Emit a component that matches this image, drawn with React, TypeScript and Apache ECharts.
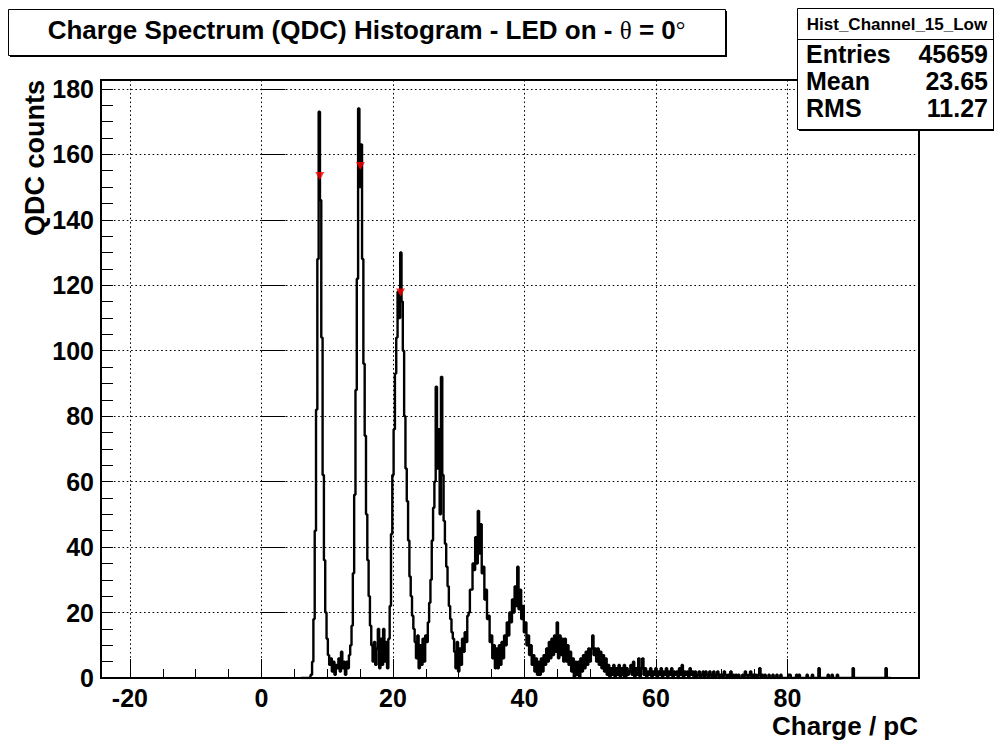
import React, { useEffect, useRef } from 'react';
import * as echarts from 'echarts';

// Histogram: counts per 0.2 pC bin, starting at 6.0 pC
const BIN_START = 6.0;
const BIN_WIDTH = 0.2;

const counts06to16 = [
  0, 0, 0, 0, 0, 0, 0, 0, 1, 5,
  18, 45, 82, 128, 173, 146, 104, 62, 36, 20,
  12, 7, 4, 6, 2, 5, 1, 4, 3, 6,
  2, 8, 3, 5, 1, 5, 3, 7, 10, 16,
  32, 56, 88, 122, 174, 150, 163, 128, 96, 74,
];
const counts16to26 = [
  50, 36, 25, 16, 10, 5, 11, 4, 9, 15,
  3, 12, 4, 15, 5, 11, 3, 12, 22, 44,
  62, 76, 93, 104, 118, 110, 130, 115, 100, 80,
  64, 54, 42, 31, 25, 19, 15, 11, 6, 13,
  3, 10, 4, 12, 5, 13, 11, 17, 23, 30,
];
const counts26to36 = [
  42, 52, 60, 89, 64, 76, 50, 92, 62, 48,
  41, 34, 28, 22, 18, 14, 12, 8, 3, 11,
  2, 9, 4, 12, 8, 14, 11, 19, 20, 27,
  27, 35, 33, 43, 35, 51, 38, 47, 32, 34,
  24, 27, 18, 19, 11, 13, 6, 10, 3, 9,
];
const counts36to46 = [
  3, 10, 4, 11, 6, 13, 10, 17, 13, 20,
  17, 24, 20, 28, 22, 34, 21, 27, 18, 22,
  14, 17, 10, 13, 7, 10, 4, 7, 2, 6,
  1, 5, 1, 6, 2, 7, 4, 9, 5, 11,
  6, 12, 7, 13, 8, 17, 6, 13, 7, 12,
];
const counts46to56 = [
  5, 12, 5, 10, 4, 8, 2, 6, 0, 5,
  1, 5, 0, 6, 2, 7, 3, 8, 4, 9,
  5, 9, 13, 7, 9, 5, 9, 4, 8, 3,
  7, 2, 6, 1, 4, 0, 3, 1, 4, 0,
  3, 1, 4, 0, 3, 1, 4, 0, 3, 1,
];
const counts56to66 = [
  2, 4, 1, 5, 0, 3, 1, 6, 0, 3,
  6, 1, 3, 0, 2, 1, 3, 0, 2, 1,
  3, 0, 2, 1, 3, 0, 2, 1, 3, 0,
  2, 1, 3, 0, 2, 1, 2, 0, 3, 1,
  4, 0, 2, 1, 2, 0, 3, 1, 2, 0,
];
const counts66to76 = [
  2, 0, 1, 2, 0, 1, 2, 0, 2, 1,
  0, 2, 1, 0, 2, 0, 1, 2, 0, 1,
  1, 0, 2, 1, 0, 1, 0, 2, 0, 1,
  0, 1, 0, 1, 0, 0, 1, 0, 2, 1,
  0, 1, 2, 0, 1, 0, 1, 0, 1, 3,
];
const counts76to86 = [
  0, 1, 0, 1, 0, 0, 1, 0, 0, 1,
  0, 0, 1, 0, 0, 1, 0, 0, 0, 0,
  0, 1, 1, 0, 0, 0, 0, 1, 0, 1,
  0, 0, 0, 0, 0, 1, 0, 0, 0, 1,
  0, 0, 0, 0, 3, 0, 0, 0, 0, 0,
];
const counts86to96 = [
  0, 1, 0, 0, 1, 0, 0, 0, 1, 0,
  0, 0, 0, 0, 0, 0, 0, 0, 0, 0,
  3, 0, 0, 0, 0, 0, 0, 0, 0, 0,
  0, 0, 0, 0, 0, 0, 0, 0, 0, 0,
  0, 0, 0, 0, 0, 3, 0, 0, 0, 0,
];

// Peaks found (red markers)
const peakCharge = [8.88, 15.05, 21.15];
const peakCounts = [153.4, 156.4, 117.8];

// Axes
const X_MIN = -24.4;
const X_MAX = 100;
const X_TICK_START = -20;
const X_TICK_STEP = 20;
const Y_MAX = 182.7;
const Y_TICK_STEP = 20;
const Y_MINOR_STEP = 5;

// Texts
const titleMain = 'Charge Spectrum (QDC) Histogram - LED on - ';
const titleTheta = '\u03b8';
const titleEq = ' = 0';
const titleDeg = '\u00b0';
const xTitle = 'Charge / pC';
const yTitle = 'QDC counts';
const histName = 'Hist_Channel_15_Low';
const statsLabels = ['Entries', 'Mean', 'RMS'];
const statsValues = ['45659', '23.65', '11.27'];

const FONT = "'Liberation Sans', Arial, Helvetica, sans-serif";
const SERIF = "'Liberation Serif', 'DejaVu Serif', serif";

export default function App() {
  const ref = useRef<HTMLDivElement>(null);

  useEffect(() => {
    if (!ref.current) return;
    const chart = echarts.init(ref.current, null, { renderer: 'svg' });

    const counts = [
      ...counts06to16, ...counts16to26, ...counts26to36, ...counts36to46,
      ...counts46to56, ...counts56to66, ...counts66to76, ...counts76to86, ...counts86to96,
    ];
    const histData = counts.map((c, i) => [+(BIN_START + i * BIN_WIDTH).toFixed(1), c]);
    const peakData = peakCharge.map((x, i) => [x, peakCounts[i]]);

    const plotLeft = 101;
    const plotRight = 919;
    const plotTop = 80;
    const plotBottom = 678;
    const plotW = plotRight - plotLeft;
    const plotH = plotBottom - plotTop;
    const majorLeft = plotLeft + ((X_TICK_START - X_MIN) / (X_MAX - X_MIN)) * plotW;

    const dotted = { color: '#000', width: 1, type: [1.6, 2.7] as any };
    const labelStyle = { color: '#000', fontSize: 25, fontWeight: 'bold' as const, fontFamily: FONT };

    const statsY = [54, 81, 108];

    const option: any = {
      animation: false,
      backgroundColor: '#fff',
      grid: [
        { left: plotLeft, top: plotTop, width: plotW, height: plotH, show: true, borderColor: '#000', borderWidth: 2, backgroundColor: 'transparent', containLabel: false, outerBoundsMode: 'none' },
        { left: majorLeft, top: plotTop, width: plotRight - majorLeft, height: plotH, show: false, containLabel: false, outerBoundsMode: 'none' },
      ],
      xAxis: [
        { gridIndex: 0, type: 'value', min: X_MIN, max: X_MAX, show: false },
        {
          gridIndex: 1, type: 'value', min: X_TICK_START, max: X_MAX, interval: X_TICK_STEP, position: 'bottom',
          axisLine: { show: false },
          axisTick: { show: true, inside: true, length: 19, lineStyle: { color: '#000', width: 1 } },
          minorTick: { show: true, splitNumber: 4, length: 9, lineStyle: { color: '#000', width: 1 } },
          axisLabel: { ...labelStyle, margin: 7.5, formatter: (v: number) => (v < X_MAX ? String(v) : '') },
          splitLine: { show: true, lineStyle: dotted },
          minorSplitLine: { show: false },
        },
      ],
      yAxis: [
        {
          gridIndex: 0, type: 'value', min: 0, max: Y_MAX, interval: Y_TICK_STEP, position: 'left',
          axisLine: { show: false },
          axisTick: { show: true, inside: true, length: 24, lineStyle: { color: '#000', width: 1 } },
          axisLabel: { ...labelStyle, margin: 7, formatter: (v: number) => (v % Y_TICK_STEP === 0 ? String(v) : '') },
          splitLine: { show: true, lineStyle: dotted },
        },
        {
          gridIndex: 0, type: 'value', min: 0, max: Y_MAX, interval: Y_MINOR_STEP, position: 'left', offset: 0,
          axisLine: { show: false },
          axisTick: { show: true, inside: true, length: 12, lineStyle: { color: '#000', width: 1 } },
          axisLabel: { show: false },
          splitLine: { show: false },
        },
        { gridIndex: 1, type: 'value', min: 0, max: 1, show: false },
      ],
      series: [
        {
          type: 'line', xAxisIndex: 0, yAxisIndex: 0, data: histData, step: 'middle',
          showSymbol: false, symbol: 'none', lineStyle: { color: '#000', width: 2.4 }, z: 3,
        },
        {
          type: 'scatter', xAxisIndex: 0, yAxisIndex: 0, data: peakData, symbol: 'triangle',
          symbolRotate: 180, symbolSize: [9, 8], itemStyle: { color: '#ff0000' }, z: 4,
        },
      ],
      graphic: [
        // title box
        { type: 'rect', z: 100, shape: { x: 10, y: 11, width: 717, height: 46 }, style: { fill: '#000' } },
        { type: 'rect', z: 101, shape: { x: 8.5, y: 9.5, width: 717, height: 46 }, style: { fill: '#fff', stroke: '#000', lineWidth: 1 } },
        {
          type: 'text', z: 102, x: 366.5, y: 30,
          style: {
            text: `{b|${titleMain}}{t|${titleTheta}}{b|${titleEq}}{d|${titleDeg}}`,
            align: 'center', verticalAlign: 'middle',
            rich: {
              b: { fontSize: 26, fontWeight: 'bold', fontFamily: FONT, fill: '#000' },
              t: { fontSize: 25, fontWeight: 'normal', fontFamily: SERIF, fill: '#000' },
              d: { fontSize: 24, fontWeight: 'normal', fontFamily: SERIF, fill: '#000' },
            },
          },
        },
        // stats box
        { type: 'rect', z: 100, shape: { x: 799, y: 10, width: 196, height: 121 }, style: { fill: '#000' } },
        { type: 'rect', z: 101, shape: { x: 797.5, y: 8.5, width: 196, height: 121 }, style: { fill: '#fff', stroke: '#000', lineWidth: 1 } },
        { type: 'line', z: 102, shape: { x1: 797.5, y1: 39.5, x2: 994, y2: 39.5 }, style: { stroke: '#000', lineWidth: 1 } },
        {
          type: 'text', z: 102, x: 897, y: 24.5,
          style: { text: histName, align: 'center', verticalAlign: 'middle', fontSize: 17, fontWeight: 'bold', fontFamily: FONT, fill: '#000' },
        },
        ...statsLabels.map((s, i) => ({
          type: 'text', z: 102, x: 806, y: statsY[i],
          style: { text: s, align: 'left', verticalAlign: 'middle', fontSize: 25, fontWeight: 'bold', fontFamily: FONT, fill: '#000' },
        })),
        ...statsValues.map((s, i) => ({
          type: 'text', z: 102, x: 988, y: statsY[i],
          style: { text: s, align: 'right', verticalAlign: 'middle', fontSize: 25, fontWeight: 'bold', fontFamily: FONT, fill: '#000' },
        })),
        // axis titles
        {
          type: 'text', z: 102, x: 918, y: 725.5,
          style: { text: xTitle, align: 'right', verticalAlign: 'middle', fontSize: 26, fontWeight: 'bold', fontFamily: FONT, fill: '#000' },
        },
        {
          type: 'text', z: 102, x: 35, y: 80, rotation: Math.PI / 2,
          style: { text: yTitle, align: 'right', verticalAlign: 'middle', fontSize: 27, fontWeight: 'bold', fontFamily: FONT, fill: '#000' },
        },
      ],
    };

    chart.setOption(option);
    return () => chart.dispose();
  }, []);

  return (
    <div
      ref={ref}
      style={{ position: 'absolute', left: 0, top: 0, width: 994, height: 743, background: '#fff' }}
    />
  );
}
